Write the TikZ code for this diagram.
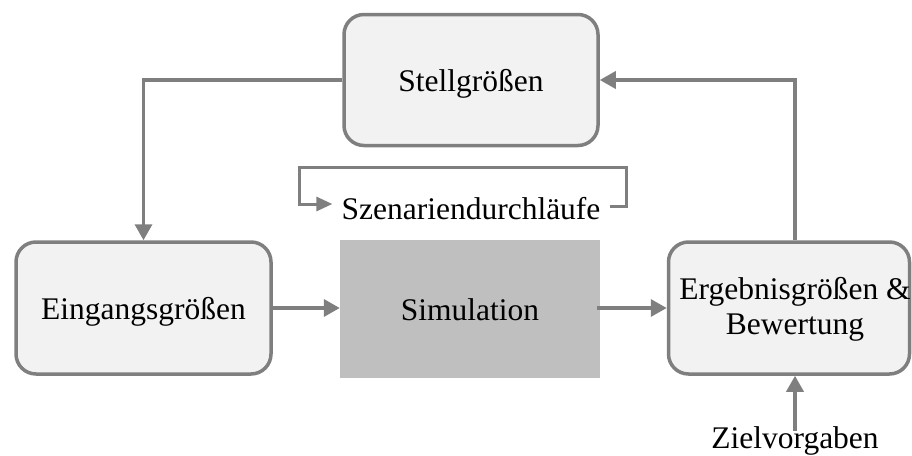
\documentclass[tikz,border=0pt]{standalone}
\usepackage{fontspec}
\setmainfont{Liberation Serif}
\usetikzlibrary{arrows.meta}
\definecolor{edgegray}{RGB}{127,127,127}
\definecolor{boxfill}{RGB}{242,242,242}
\definecolor{simfill}{RGB}{191,191,191}
\begin{document}
\begin{tikzpicture}[x=1pt,y=-1pt,
  every node/.style={font=\fontsize{31.5}{35}\selectfont, align=center},
  oneline/.style={text height=22pt, text depth=0pt},
  roundbox/.style={draw=edgegray, fill=boxfill, line width=3.5pt,
    rounded corners=20pt, inner sep=0pt},
  simbox/.style={fill=simfill, draw=none, inner sep=0pt},
  conn/.style={draw=edgegray, line width=3.5pt,
    -{Triangle[length=16pt,width=17pt]}},
  loopline/.style={draw=edgegray, line width=3pt,
    -{Triangle[length=16pt,width=14pt]}}]
  \useasboundingbox (0,0) rectangle (912,455);

  % blocks
  \node[roundbox, oneline, minimum width=254pt, minimum height=131pt] (stell) at (471,80) {Stellgrößen};
  \node[roundbox, oneline, minimum width=255pt, minimum height=132pt] (eing) at (143.5,308) {Eingangsgrößen};
  \node[simbox, oneline, minimum width=260pt, minimum height=138pt] (sim) at (470,309) {Simulation};
  \node[roundbox, minimum width=241pt, minimum height=132pt] (erg) at (789,308) {};
  \node (ergtext) at (795,309) {Ergebnisgrößen \&\\Bewertung};
  \node[inner sep=0pt, oneline, anchor=base] (ziel) at (795,448) {Zielvorgaben};
  \node[inner xsep=9pt, inner ysep=0pt, oneline] (szen) at (471,208) {Szenariendurchläufe};

  % loop over scenario runs
  \coordinate (loopR) at (626,167);
  \coordinate (loopL) at (299,167);
  \draw[loopline] ([yshift=1.5pt]szen.east) -| (loopR) -- (loopL) |- ([yshift=4pt]szen.west);

  % main flow
  \draw[conn] (eing.east) -- (eing.east -| sim.west);
  \draw[conn] ([xshift=-3pt]erg.west -| sim.east) -- (erg.west);
  \draw[conn] (erg.north -| ziel) -- (ziel |- stell) -- (stell.east);
  \draw[conn] (stell.west) -| (eing.north);
  \draw[conn] ([yshift=-5pt]ziel.north) -- (ziel.north |- erg.south);
\end{tikzpicture}
\end{document}
